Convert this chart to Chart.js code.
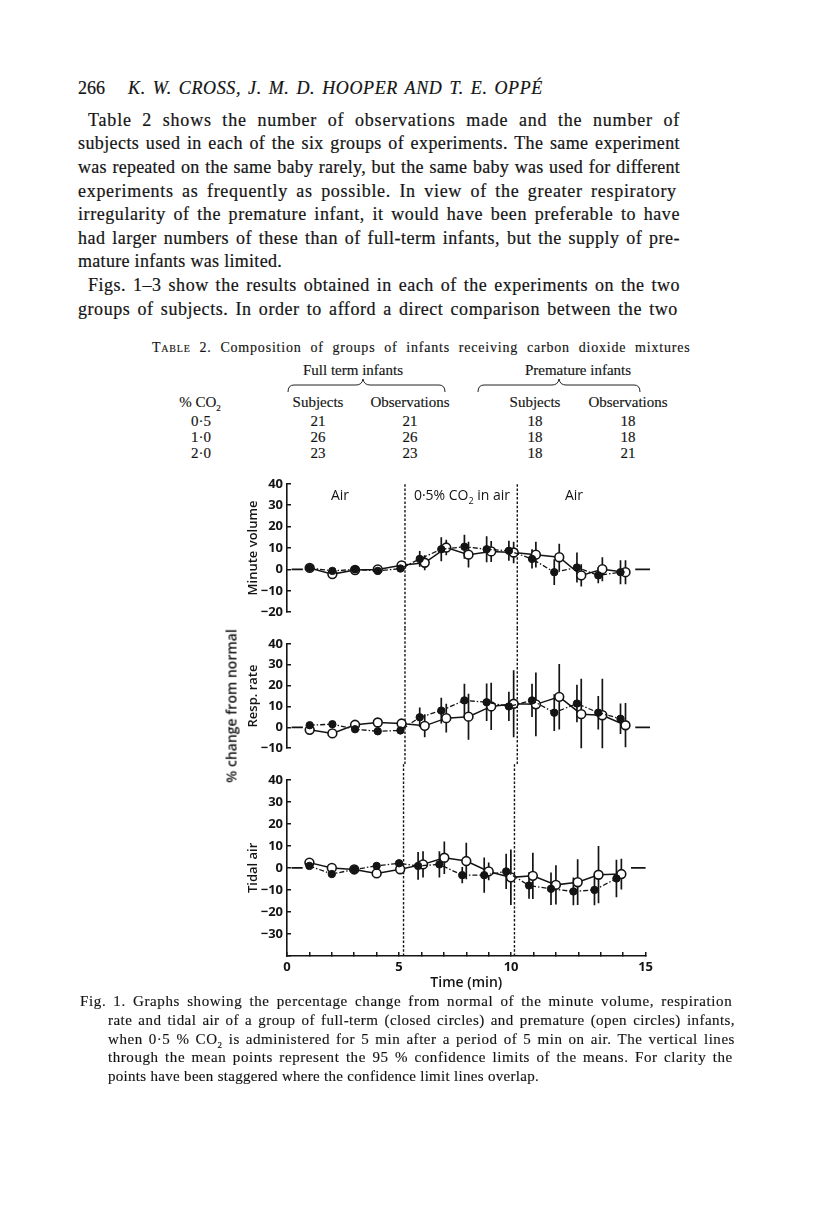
<!DOCTYPE html>
<html>
<head>
<meta charset="utf-8">
<title>Fig. 1</title>
<script src="https://cdn.jsdelivr.net/npm/chart.js@4.4.1/dist/chart.umd.min.js"></script>
<style>
html,body{margin:0;padding:0;background:#fff;}
body{width:816px;height:1221px;position:relative;overflow:hidden;color:#141414;font-family:"Liberation Serif","Times New Roman",serif;}
.ab{position:absolute;white-space:nowrap;}
.tx{position:absolute;white-space:nowrap;font-size:18px;line-height:24px;-webkit-text-stroke:0.2px #141414;}
.cap{position:absolute;white-space:nowrap;font-size:15px;line-height:19px;-webkit-text-stroke:0.15px #141414;}
.tb{position:absolute;font-size:15px;line-height:16px;transform:translateX(-50%);white-space:nowrap;-webkit-text-stroke:0.15px #141414;}
canvas{position:absolute;}
.sans{font-family:"Open Sans",sans-serif;font-weight:600;color:#141414;}
</style>
</head>
<body>
<!-- page header and body text -->
<div class="tx" style="left:78px;top:76px;">266</div>
<div class="tx fit" data-w="415" style="left:128px;top:76px;font-style:italic;">K. W. CROSS, J. M. D. HOOPER AND T. E. OPPÉ</div>
<div class="tx fit" data-w="592" style="left:88px;top:108px;">Table 2 shows the number of observations made and the number of</div>
<div class="tx fit" data-w="602" style="left:78px;top:131px;">subjects used in each of the six groups of experiments. The same experiment</div>
<div class="tx fit" data-w="602" style="left:78px;top:155px;">was repeated on the same baby rarely, but the same baby was used for different</div>
<div class="tx fit" data-w="602" style="left:78px;top:179px;">experiments as frequently as possible.  In view of the greater respiratory</div>
<div class="tx fit" data-w="602" style="left:78px;top:202px;">irregularity of the premature infant, it would have been preferable to have</div>
<div class="tx fit" data-w="602" style="left:78px;top:226px;">had larger numbers of these than of full-term infants, but the supply of pre-</div>
<div class="tx" style="left:78px;top:249px;letter-spacing:0.3px;">mature infants was limited.</div>
<div class="tx fit" data-w="592" style="left:88px;top:273px;">Figs. 1–3 show the results obtained in each of the experiments on the two</div>
<div class="tx fit" data-w="602" style="left:78px;top:297px;">groups of subjects.  In order to afford a direct comparison between the two</div>

<!-- table 2 -->
<div class="cap fit" data-w="543" style="left:152px;top:338px;font-size:14px;"><span style="font-variant:small-caps;">Table</span> 2.  Composition of groups of infants receiving carbon dioxide mixtures</div>
<div class="tb" style="left:353px;top:362px;">Full term infants</div>
<div class="tb" style="left:578px;top:362px;">Premature infants</div>
<svg style="position:absolute;left:0;top:0;" width="816" height="470">
  <path d="M288 392 Q288 385 294 385 L356 385 Q362 385 363 379 Q364 385 370 385 L439 385 Q445 385 445 392" fill="none" stroke="#222" stroke-width="1"/>
  <path d="M478 392 Q478 385 484 385 L552 385 Q558 385 559 379 Q560 385 566 385 L634 385 Q640 385 640 392" fill="none" stroke="#222" stroke-width="1"/>
</svg>
<div class="tb" style="left:200px;top:394px;">% CO<sub style="font-size:9px;">2</sub></div>
<div class="tb" style="left:318px;top:394px;">Subjects</div>
<div class="tb" style="left:410px;top:394px;">Observations</div>
<div class="tb" style="left:535px;top:394px;">Subjects</div>
<div class="tb" style="left:628px;top:394px;">Observations</div>
<div class="tb" style="left:201px;top:413px;">0·5</div>
<div class="tb" style="left:318px;top:413px;">21</div>
<div class="tb" style="left:410px;top:413px;">21</div>
<div class="tb" style="left:535px;top:413px;">18</div>
<div class="tb" style="left:628px;top:413px;">18</div>
<div class="tb" style="left:201px;top:429px;">1·0</div>
<div class="tb" style="left:318px;top:429px;">26</div>
<div class="tb" style="left:410px;top:429px;">26</div>
<div class="tb" style="left:535px;top:429px;">18</div>
<div class="tb" style="left:628px;top:429px;">18</div>
<div class="tb" style="left:201px;top:445px;">2·0</div>
<div class="tb" style="left:318px;top:445px;">23</div>
<div class="tb" style="left:410px;top:445px;">23</div>
<div class="tb" style="left:535px;top:445px;">18</div>
<div class="tb" style="left:628px;top:445px;">21</div>

<!-- figure -->
<canvas id="c1" width="440" height="160" style="left:220px;top:468px;"></canvas>
<canvas id="c2" width="440" height="136" style="left:220px;top:628px;"></canvas>
<canvas id="c3" width="440" height="236" style="left:220px;top:764px;"></canvas>
<div class="ab sans" style="left:340px;top:485px;font-size:14px;transform:translateX(-50%);font-weight:500;">Air</div>
<div class="ab sans" style="left:462px;top:485px;font-size:14px;transform:translateX(-50%);font-weight:500;">0·5% CO<sub style="font-size:9px;">2</sub> in air</div>
<div class="ab sans" style="left:574px;top:485px;font-size:14px;transform:translateX(-50%);font-weight:500;">Air</div>
<div class="ab sans" style="left:231px;top:706px;font-size:14px;transform:translate(-50%,-50%) rotate(-90deg);">% change from normal</div>

<!-- caption -->
<div class="cap fit" data-w="655" style="left:80px;top:992px;">Fig. 1.  Graphs showing the percentage change from normal of the minute volume, respiration</div>
<div class="cap fit" data-w="627" style="left:108px;top:1011px;">rate and tidal air of a group of full-term (closed circles) and premature (open circles) infants,</div>
<div class="cap fit" data-w="627" style="left:108px;top:1030px;">when 0·5 % CO<sub style="font-size:9px;">2</sub> is administered for 5 min after a period of 5 min on air. The vertical lines</div>
<div class="cap fit" data-w="627" style="left:108px;top:1048px;">through the mean points represent the 95 % confidence limits of the means.  For clarity the</div>
<div class="cap" style="left:108px;top:1067px;letter-spacing:0.3px;">points have been staggered where the confidence limit lines overlap.</div>

<script>
// fit each justified text line to its measured width in the page
document.querySelectorAll('.fit').forEach(el => {
  const T = parseFloat(el.dataset.w);
  const W0 = el.getBoundingClientRect().width;
  const txt = el.textContent;
  const n = txt.length;
  const s = (txt.match(/ /g) || []).length || 1;
  const E = T - W0;
  if (E < 0) { el.style.transformOrigin = 'left center'; el.style.transform = 'scaleX(' + (T / W0) + ')'; return; }
  const ls = Math.min(E * 0.6 / n, 0.8);
  el.style.letterSpacing = ls + 'px';
  const W1 = el.getBoundingClientRect().width;
  el.style.wordSpacing = ((T - W1) / s) + 'px';
});

// ---------------- data ----------------
// time (min) of each mean point; points are staggered where confidence lines overlap
const fullTermTimes  = [1, 2, 3, 4, 5, 5.85, 6.8, 7.82, 8.8, 9.78, 10.8, 11.78, 12.78, 13.72, 14.7];
const prematureTimes = [1, 2, 3, 4, 5.05, 6.07, 7.02, 8.0, 9.0, 9.99, 10.97, 12.0, 12.97, 13.9, 14.92];

// Minute volume (% change from normal)
const minuteVolumeFull   = [0.7, -0.7, 0, -0.7, 0.4, 4.9, 9.4, 10.6, 9.4, 8.7, 4.9, -1.3, 0.9, -2.8, -1.3];
const minuteVolumeFullCI = [0, 0, 0, 0, 0, 3.7, 5.6, 5.6, 6.1, 4.7, 4.5, 6.0, 7.0, 3.7, 5.6];
const minuteVolumePrem   = [0.7, -2.2, -0.3, 0, 1.9, 3.1, 10.2, 6.9, 8.4, 7.9, 6.9, 5.7, -2.8, 0.1, -1.3];
const minuteVolumePremCI = [0, 0, 0, 0, 0, 3.5, 3.6, 6.0, 4.9, 5.0, 6.0, 6.3, 5.2, 5.6, 5.6];

// Respiration rate
const respRateFull   = [1.0, 1.5, -0.9, -1.9, -1.5, 4.8, 8.0, 12.9, 12.0, 10.0, 12.9, 7.0, 11.4, 7.0, 4.1];
const respRateFullCI = [0, 0, 0, 0, 0, 4.7, 6.2, 8.0, 9.0, 7.0, 8.0, 8.8, 9.0, 8.0, 7.3];
const respRatePrem   = [-1.2, -2.9, 1.2, 2.3, 1.8, 0.7, 4.4, 5.1, 10.0, 11.3, 11.0, 14.6, 6.3, 5.8, 1.0];
const respRatePremCI = [0, 0, 0, 0, 0, 5.5, 6.9, 11.0, 11.3, 16.0, 15.3, 15.7, 17.0, 17.5, 10.6];

// Tidal air
const tidalAirFull   = [0.9, -2.8, -0.7, 0.9, 2.1, 0.9, 1.6, -3.3, -3.3, -1.6, -8.0, -9.5, -10.7, -10.0, -4.8];
const tidalAirFullCI = [0, 0, 0, 0, 0, 6.3, 6.0, 3.7, 8.0, 8.0, 6.0, 7.4, 6.3, 7.0, 8.5];
const tidalAirPrem   = [2.4, 0, -0.7, -2.5, -0.6, 1.6, 4.6, 3.1, -1.6, -4.3, -3.6, -7.7, -6.5, -3.1, -2.8];
const tidalAirPremCI = [0, 0, 0, 0, 0, 6.0, 7.4, 8.3, 4.0, 12.6, 10.5, 8.9, 10.4, 13.0, 7.0];

// CO2 period boundaries (min)
const co2Boundaries = [5.2, 10.15];
// short zero-level reference marks at both ends of each panel
const zeroMarkSpans = [[0.2, 0.7], [15.35, 16]];
// axes
const minuteVolumeRange = [-20, 40];
const respRateRange = [-10, 40];
const tidalAirRange = [-40, 40];
const timeTickValues = [0, 5, 10, 16];
const timeTickLabels = ['0', '5', '10', '15'];

// ---------------- builders ----------------
const INK = '#141414';
Chart.defaults.font.family = '"Open Sans", sans-serif';
Chart.defaults.color = INK;

function points(xs, ys) { return xs.map((x, i) => ({ x, y: ys[i] })); }
function ciSegments(xs, ys, es) {
  const out = [];
  xs.forEach((x, i) => {
    if (es[i]) { out.push({ x, y: ys[i] - es[i] }, { x, y: ys[i] + es[i] }, { x, y: null }); }
  });
  return out;
}
function zeroMarks() {
  const out = [];
  zeroMarkSpans.forEach(([a, b]) => { out.push({ x: a, y: 0 }, { x: b, y: 0 }, { x: b, y: null }); });
  return out;
}
function boundaryLines(lo, hi) {
  const out = [];
  co2Boundaries.forEach(t => { out.push({ x: t, y: lo }, { x: t, y: hi }, { x: t, y: null }); });
  return out;
}
const fmtMinus = v => String(v).replace('-', '\u2212');

function makePanel(id, title, range, full, fullCI, prem, premCI, opts) {
  const bottom = !!opts.bottom;
  const datasets = [
    { data: points(fullTermTimes, full), borderColor: INK, borderWidth: 1.3, borderDash: [5, 2, 1.5, 2],
      pointRadius: 3.7, pointBackgroundColor: INK, pointBorderColor: INK, pointBorderWidth: 1, tension: 0 },
    { data: points(prematureTimes, prem), borderColor: INK, borderWidth: 1.5,
      pointRadius: 4.4, pointBackgroundColor: '#fff', pointBorderColor: INK, pointBorderWidth: 1.6, tension: 0 },
    { data: ciSegments(fullTermTimes, full, fullCI), borderColor: INK, borderWidth: 1.7, pointRadius: 0, spanGaps: false },
    { data: ciSegments(prematureTimes, prem, premCI), borderColor: INK, borderWidth: 1.7, pointRadius: 0, spanGaps: false },
    { data: zeroMarks(), borderColor: INK, borderWidth: 1.8, pointRadius: 0, spanGaps: false, clip: false },
    { data: boundaryLines(opts.lineLo, opts.lineHi), borderColor: INK, borderWidth: 1.4, borderDash: [2.5, 1.8],
      pointRadius: 0, spanGaps: false, clip: false }
  ];
  const tickFont = { family: '"Open Sans", sans-serif', size: 13, weight: '700' };
  const xScale = bottom ? {
    type: 'linear', min: 0, max: 16,
    ticks: { stepSize: 1, autoSkip: false, maxRotation: 0, padding: 7, color: INK, font: tickFont,
      callback: v => { const k = timeTickValues.indexOf(v); return k >= 0 ? timeTickLabels[k] : ''; } },
    grid: { drawOnChartArea: false, tickLength: -4, color: INK, lineWidth: 1.5 },
    border: { display: true, color: INK, width: 1.6 },
    title: { display: true, text: 'Time (min)', color: INK, padding: { top: 0, bottom: 9 },
      font: { family: '"Open Sans", sans-serif', size: 14, weight: '600' } },
    afterFit: s => { s.height = 44; }
  } : { type: 'linear', min: 0, max: 16, display: false };

  return new Chart(document.getElementById(id), {
    type: 'line',
    data: { datasets },
    options: {
      responsive: false, animation: false, devicePixelRatio: 1,
      parsing: true, normalized: false,
      layout: { padding: opts.padding },
      plugins: { legend: { display: false }, tooltip: { enabled: false } },
      scales: {
        x: xScale,
        y: {
          type: 'linear', min: range[0], max: range[1],
          ticks: { stepSize: 10, padding: 8, color: INK, font: tickFont,
            callback: v => (bottom && v === range[0]) ? '' : fmtMinus(v) },
          grid: { drawOnChartArea: false, tickLength: -4, color: INK, lineWidth: 1.5 },
          border: { display: true, color: INK, width: 1.6 },
          title: { display: true, text: title, color: INK, padding: 0,
            font: { family: '"Open Sans", sans-serif', size: 13, weight: '600' } },
          afterFit: s => { s.width = 42; }
        }
      }
    }
  });
}

makePanel('c1', 'Minute volume', minuteVolumeRange, minuteVolumeFull, minuteVolumeFullCI, minuteVolumePrem, minuteVolumePremCI,
  { padding: { left: 25, right: 10, top: 14, bottom: 12 }, lineLo: -100, lineHi: 40 });
makePanel('c2', 'Resp. rate', respRateRange, respRateFull, respRateFullCI, respRatePrem, respRatePremCI,
  { padding: { left: 25, right: 10, top: 10, bottom: 12 }, lineLo: -100, lineHi: 100 });
makePanel('c3', 'Tidal air', tidalAirRange, tidalAirFull, tidalAirFullCI, tidalAirPrem, tidalAirPremCI,
  { padding: { left: 25, right: 10, top: 14, bottom: 0 }, lineLo: -40, lineHi: 100, bottom: true });
</script>
</body>
</html>
